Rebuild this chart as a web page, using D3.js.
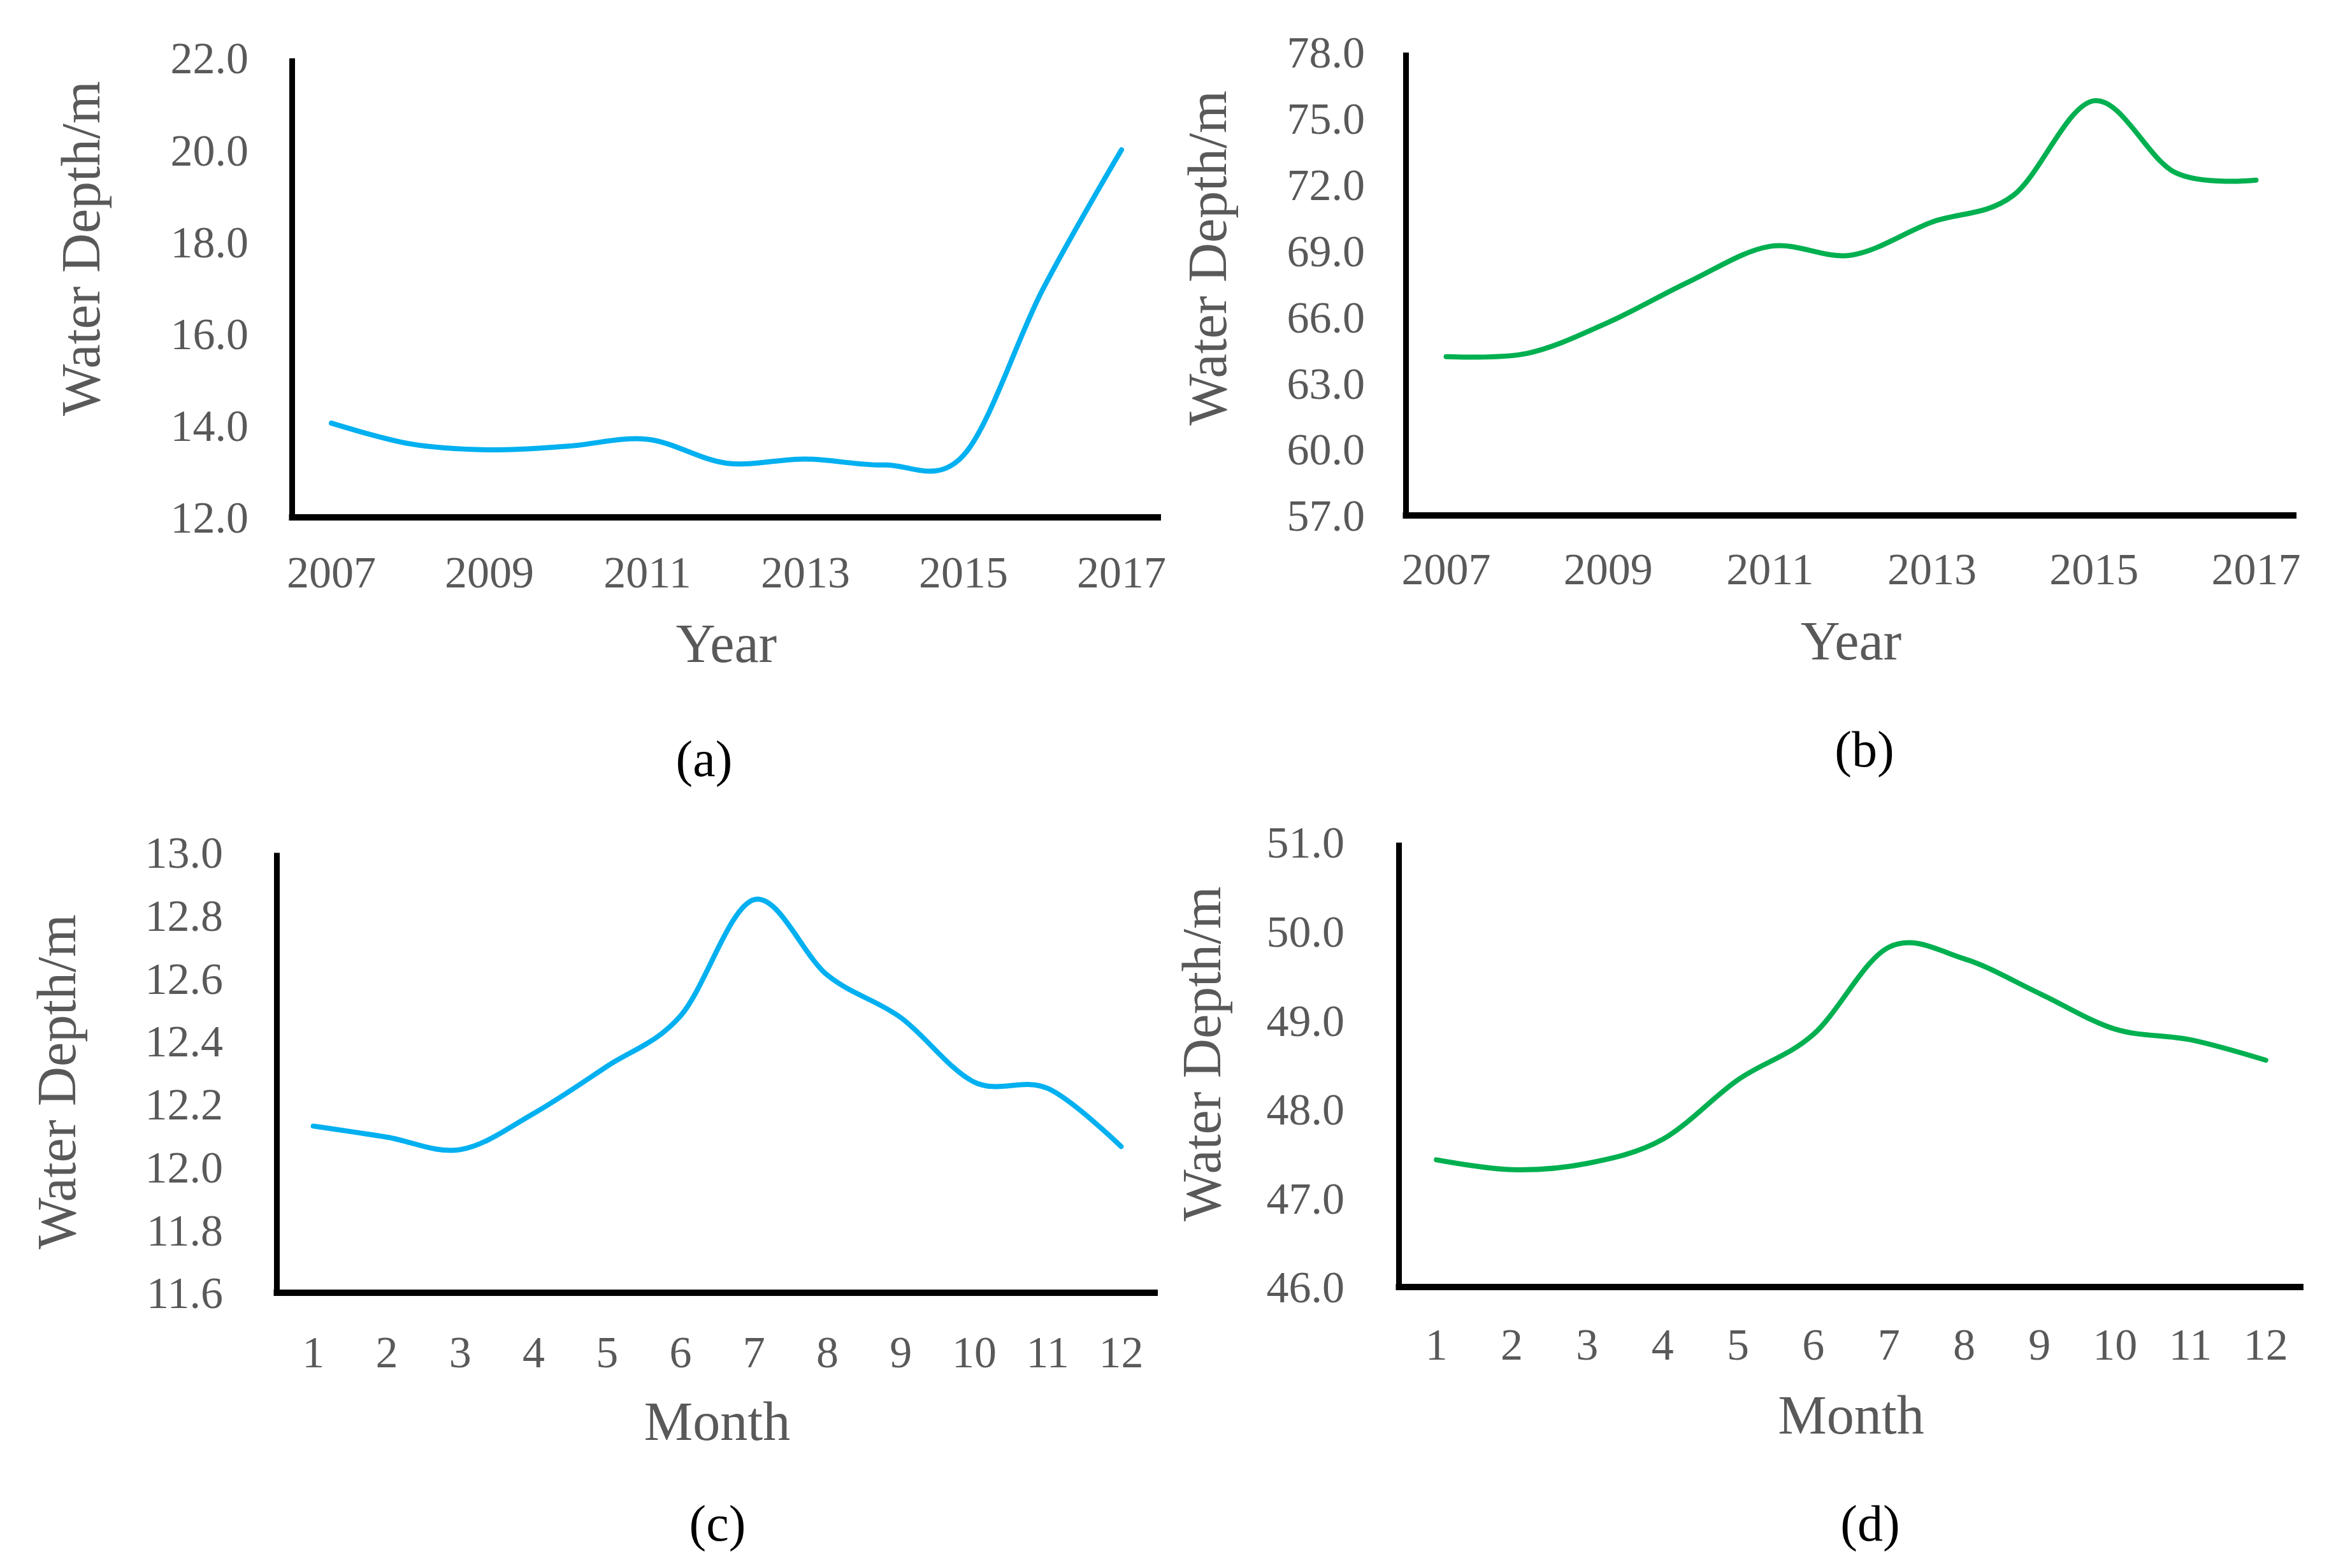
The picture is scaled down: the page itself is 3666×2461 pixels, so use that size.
<!DOCTYPE html>
<html lang="en">
  <head>
    <meta charset="utf-8">
    <title>Water depth</title>
    <script src="https://cdn.jsdelivr.net/npm/d3@7"></script>
<style>
body { margin: 0; background: #fff; }
text { font-family: "Liberation Serif", "Times New Roman", serif; }
</style>
  </head>
  <body>
    <script>
      // data
      var years = ["2007", "2008", "2009", "2010", "2011", "2012", "2013", "2014", "2015", "2016", "2017"];
      var months = ["1", "2", "3", "4", "5", "6", "7", "8", "9", "10", "11", "12"];
      var depthYearA = [14.05, 13.6, 13.47, 13.55, 13.7, 13.18, 13.27, 13.14, 13.35, 16.95, 20.0];
      var depthYearB = [64.2, 64.35, 65.75, 67.6, 69.2, 68.8, 70.3, 71.5, 75.8, 72.55, 72.2];
      var depthMonthC = [12.13, 12.095, 12.055, 12.17, 12.32, 12.48, 12.85, 12.61, 12.475, 12.27, 12.25, 12.065];
      var depthMonthD = [47.43, 47.32, 47.39, 47.66, 48.33, 48.84, 49.82, 49.69, 49.3, 48.9, 48.78, 48.55];
      var yTicksA = [12, 14, 16, 18, 20, 22];
      var yTicksB = [57, 60, 63, 66, 69, 72, 75, 78];
      var yTicksC = [11.6, 11.8, 12.0, 12.2, 12.4, 12.6, 12.8, 13.0];
      var yTicksD = [46, 47, 48, 49, 50, 51];
      var xTicksYear = ["2007", "2009", "2011", "2013", "2015", "2017"];

      var blue = "#00b0f0", green = "#00b050", grey = "#595959";

      var svg = d3.select("body").append("svg")
        .attr("width", 3666)
        .attr("height", 2461);

      var panels = [
        { cats: years, vals: depthYearA, yTicks: yTicksA, xTicks: xTicksYear, color: blue, xTitle: "Year", tag: "(a)",
          x0: 458, x1: 1822, yTop: 91, yBot: 812, labRight: 390, xLabBase: 922, titleX: 156, titleY: 390, xTitleBase: 1039, tagX: 1105, tagBase: 1218 },
        { cats: years, vals: depthYearB, yTicks: yTicksB, xTicks: xTicksYear, color: green, xTitle: "Year", tag: "(b)",
          x0: 2206, x1: 3604, yTop: 82, yBot: 809, labRight: 2142, xLabBase: 917, titleX: 1924, titleY: 405, xTitleBase: 1035, tagX: 2926, tagBase: 1203 },
        { cats: months, vals: depthMonthC, yTicks: yTicksC, xTicks: months, color: blue, xTitle: "Month", tag: "(c)",
          x0: 434, x1: 1817, yTop: 1338, yBot: 2029, labRight: 350, xLabBase: 2146, titleX: 118, titleY: 1698, xTitleBase: 2260, tagX: 1126, tagBase: 2418 },
        { cats: months, vals: depthMonthD, yTicks: yTicksD, xTicks: months, color: green, xTitle: "Month", tag: "(d)",
          x0: 2195, x1: 3615, yTop: 1322, yBot: 2020, labRight: 2110, xLabBase: 2134, titleX: 1915, titleY: 1654, xTitleBase: 2250, tagX: 2935, tagBase: 2418 }
      ];

      panels.forEach(function(p) {
        var x = d3.scaleBand().domain(p.cats).range([p.x0, p.x1]);
        var y = d3.scaleLinear()
          .domain([p.yTicks[0], p.yTicks[p.yTicks.length - 1]])
          .range([p.yBot, p.yTop]);

        // y axis
        var gy = svg.append("g")
          .attr("transform", "translate(" + p.x0 + ",0)")
          .call(d3.axisLeft(y).tickValues(p.yTicks).tickSize(0)
            .tickFormat(function(d) { return d.toFixed(1); }));
        gy.select(".domain").attr("stroke", "#000").attr("stroke-width", 9);
        gy.selectAll("text")
          .attr("x", p.labRight - p.x0)
          .attr("dy", "0.34em")
          .attr("font-size", 70)
          .attr("font-family", "Liberation Serif")
          .attr("fill", grey);

        // x axis
        var gx = svg.append("g")
          .attr("transform", "translate(0," + p.yBot + ")")
          .call(d3.axisBottom(x).tickValues(p.xTicks).tickSize(0));
        gx.select(".domain").attr("stroke", "#000").attr("stroke-width", 10)
          .attr("d", "M" + (p.x0 - 4.5) + ",0H" + p.x1);
        gx.selectAll("text")
          .attr("y", p.xLabBase - p.yBot)
          .attr("dy", null)
          .attr("font-size", 70)
          .attr("font-family", "Liberation Serif")
          .attr("fill", grey);

        // smoothed line
        var line = d3.line()
          .x(function(d, i) { return x(p.cats[i]) + x.bandwidth() / 2; })
          .y(function(d) { return y(d); })
          .curve(d3.curveCatmullRom.alpha(0));
        svg.append("path")
          .datum(p.vals)
          .attr("d", line)
          .attr("fill", "none")
          .attr("stroke", p.color)
          .attr("stroke-width", 8)
          .attr("stroke-linecap", "round");

        // titles
        svg.append("text")
          .attr("transform", "translate(" + p.titleX + "," + p.titleY + ") rotate(-90)")
          .attr("text-anchor", "middle")
          .attr("font-size", 86)
          .attr("fill", grey)
          .text("Water Depth/m");
        svg.append("text")
          .attr("x", (p.x0 + p.x1) / 2)
          .attr("y", p.xTitleBase)
          .attr("text-anchor", "middle")
          .attr("font-size", 86)
          .attr("fill", grey)
          .text(p.xTitle);
        svg.append("text")
          .attr("x", p.tagX)
          .attr("y", p.tagBase)
          .attr("text-anchor", "middle")
          .attr("font-size", 80)
          .attr("fill", "#000")
          .text(p.tag);
      });
    </script>
  </body>
</html>
